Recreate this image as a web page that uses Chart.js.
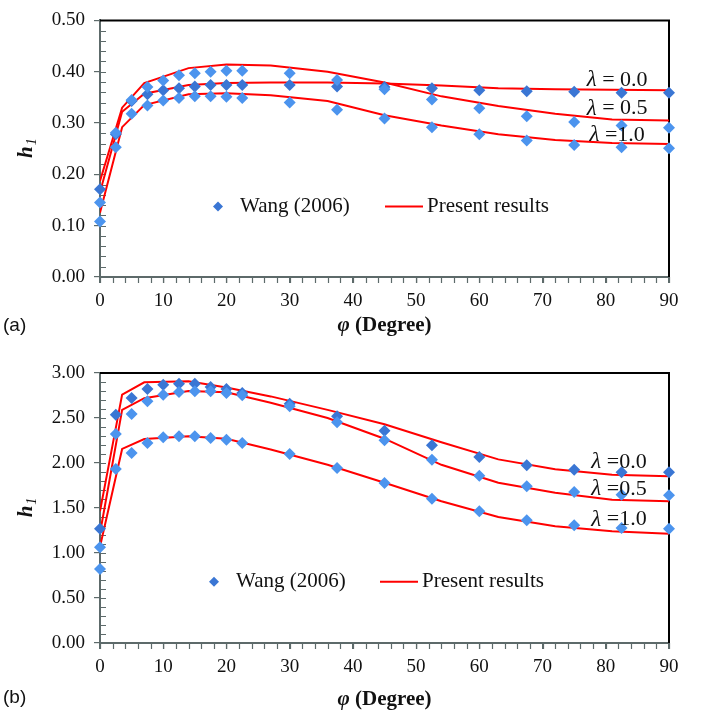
<!DOCTYPE html>
<html>
<head>
<meta charset="utf-8">
<script src="https://cdn.jsdelivr.net/npm/chart.js@4.4.0/dist/chart.umd.min.js"></script>
<style>
  html, body { margin: 0; padding: 0; background: #fff; }
  #wrap { position: relative; width: 706px; height: 719px; }
  .panel { position: absolute; left: 0; width: 706px; }
</style>
</head>
<body>
<div id="wrap">
  <div class="panel" style="top:0;height:345px"><canvas id="chartA" width="706" height="345"></canvas></div>
  <div class="panel" style="top:345px;height:374px"><canvas id="chartB" width="706" height="374"></canvas></div>
</div>
<script>
// angles of the Wang (2006) data points
const wangPhi = [0, 2.5, 5, 7.5, 10, 12.5, 15, 17.5, 20, 22.5, 30, 37.5, 45, 52.5, 60, 67.5, 75, 82.5, 90];
// angles where the present solution was evaluated
const presentPhi = [0, 3.5, 7, 14, 20, 27, 36, 45, 54, 63, 72, 81, 90];

// panel (a)
const wangA0  = [0.171, 0.278, 0.343, 0.356, 0.364, 0.368, 0.371, 0.374, 0.374, 0.374, 0.374, 0.371, 0.370, 0.368, 0.364, 0.362, 0.361, 0.359, 0.359];
const wangA05 = [0.145, 0.281, 0.345, 0.370, 0.383, 0.393, 0.397, 0.400, 0.402, 0.402, 0.397, 0.384, 0.366, 0.346, 0.329, 0.313, 0.302, 0.295, 0.291];
const wangA1  = [0.108, 0.253, 0.318, 0.334, 0.344, 0.349, 0.352, 0.352, 0.351, 0.349, 0.340, 0.326, 0.309, 0.292, 0.278, 0.266, 0.257, 0.253, 0.251];
const presA0  = [0.165, 0.322, 0.357, 0.374, 0.378, 0.379, 0.379, 0.377, 0.373, 0.368, 0.366, 0.365, 0.364];
const presA05 = [0.187, 0.330, 0.378, 0.407, 0.414, 0.412, 0.400, 0.379, 0.352, 0.333, 0.318, 0.307, 0.305];
const presA1  = [0.125, 0.292, 0.335, 0.356, 0.358, 0.354, 0.343, 0.315, 0.295, 0.278, 0.267, 0.261, 0.259];

// panel (b)
const wangB0  = [1.270, 2.537, 2.722, 2.822, 2.870, 2.881, 2.881, 2.844, 2.822, 2.778, 2.659, 2.519, 2.359, 2.196, 2.067, 1.974, 1.926, 1.896, 1.896];
const wangB05 = [1.063, 2.322, 2.544, 2.685, 2.759, 2.789, 2.796, 2.796, 2.778, 2.752, 2.630, 2.452, 2.252, 2.037, 1.859, 1.741, 1.678, 1.648, 1.641];
const wangB1  = [0.822, 1.933, 2.111, 2.222, 2.285, 2.296, 2.296, 2.278, 2.259, 2.222, 2.100, 1.944, 1.778, 1.604, 1.463, 1.363, 1.307, 1.278, 1.270];
const presB0  = [1.463, 2.760, 2.896, 2.907, 2.840, 2.740, 2.590, 2.430, 2.230, 2.040, 1.930, 1.870, 1.852];
const presB05 = [1.220, 2.590, 2.720, 2.800, 2.785, 2.670, 2.500, 2.270, 1.980, 1.780, 1.670, 1.593, 1.574];
const presB1  = [1.070, 2.156, 2.267, 2.296, 2.270, 2.150, 1.980, 1.780, 1.575, 1.400, 1.296, 1.241, 1.215];

// curve labels: text after the lambda symbol
const lambdaLabelsA = [' = 0.0', ' = 0.5', ' =1.0'];
const lambdaLabelsB = [' =0.0', ' =0.5', ' =1.0'];

const SERIF = '"Liberation Serif", "Times New Roman", serif';
const AXIS_GRAY = '#5d6a6a';
const DARK_BLUE = '#3a76d4';
const LIGHT_BLUE = '#4c94ee';
const RED = '#ff0000';

const pts = (xs, ys) => xs.map((x, i) => ({ x, y: ys[i] }));

function wangSet(ys, color) {
  return {
    data: pts(wangPhi, ys), showLine: false, clip: false,
    pointStyle: 'rectRot', pointRadius: 6, pointHoverRadius: 6,
    backgroundColor: color, borderWidth: 0
  };
}
function presentSet(ys) {
  return {
    data: pts(presentPhi, ys), showLine: true, pointRadius: 0,
    borderColor: RED, borderWidth: 2, tension: 0, fill: false
  };
}

// minor ticks, frame, legend, lambda labels and axis titles
const decor = {
  id: 'decor',
  beforeDatasetsDraw(chart, args, o) {
    const { ctx, chartArea: a } = chart;
    const xs = chart.scales.x, ys = chart.scales.y;
    ctx.save();
    ctx.strokeStyle = AXIS_GRAY;
    ctx.lineWidth = 1.2;
    ctx.beginPath();
    for (let v = 0; v <= o.yMax + 1e-9; v += o.yMinor) {
      const py = Math.round(ys.getPixelForValue(v)) + 0.5;
      ctx.moveTo(a.left, py); ctx.lineTo(a.left + 6, py);
    }
    for (let v = 0; v <= 90; v += 2) {
      const px = Math.round(xs.getPixelForValue(v)) + 0.5;
      ctx.moveTo(px, a.bottom); ctx.lineTo(px, a.bottom + 6);
    }
    ctx.stroke();
    // black frame on top and right
    ctx.strokeStyle = '#000';
    ctx.lineWidth = 2;
    ctx.beginPath();
    ctx.moveTo(a.left, a.top); ctx.lineTo(a.right, a.top); ctx.lineTo(a.right, a.bottom);
    ctx.stroke();
    ctx.restore();
  },
  afterDraw(chart, args, o) {
    const { ctx, chartArea: a } = chart;
    const xs = chart.scales.x, ys = chart.scales.y;
    ctx.save();
    ctx.fillStyle = '#111';
    ctx.textBaseline = 'middle';

    // legend
    const ly = a.top + o.legendY * (a.bottom - a.top);
    const dx = o.legendX;
    ctx.fillStyle = DARK_BLUE;
    ctx.beginPath();
    ctx.moveTo(dx - 5, ly); ctx.lineTo(dx, ly - 5); ctx.lineTo(dx + 5, ly); ctx.lineTo(dx, ly + 5);
    ctx.closePath(); ctx.fill();
    ctx.fillStyle = '#111';
    ctx.font = '21px ' + SERIF;
    ctx.textAlign = 'left';
    ctx.fillText('Wang (2006)', dx + 22, ly);
    ctx.strokeStyle = RED; ctx.lineWidth = 2;
    ctx.beginPath(); ctx.moveTo(o.lineX, ly); ctx.lineTo(o.lineX + 38, ly); ctx.stroke();
    ctx.fillText('Present results', o.lineX + 42, ly);

    // lambda labels, italic symbol then upright value
    o.lambdaLabels.forEach((t, i) => {
      const cx = xs.getPixelForValue(o.lambdaX), cy = ys.getPixelForValue(o.lambdaY[i]);
      ctx.font = 'italic 23px ' + SERIF;
      const wl = ctx.measureText('\u03bb').width;
      ctx.font = '22px ' + SERIF;
      const wt = ctx.measureText(t).width;
      const x0 = cx - (wl + wt) / 2;
      ctx.font = 'italic 23px ' + SERIF;
      ctx.fillText('\u03bb', x0, cy);
      ctx.font = '22px ' + SERIF;
      ctx.fillText(t, x0 + wl, cy);
    });

    // y title: h with subscript 1
    const cy = (a.top + a.bottom) / 2;
    ctx.save();
    ctx.translate(25, cy);
    ctx.rotate(-Math.PI / 2);
    ctx.font = 'bold italic 21px ' + SERIF;
    const wh = ctx.measureText('h').width;
    ctx.font = 'italic 14px ' + SERIF;
    const w1 = ctx.measureText('1').width;
    const x0 = -(wh + w1) / 2;
    ctx.textAlign = 'left';
    ctx.textBaseline = 'alphabetic';
    ctx.font = 'bold italic 21px ' + SERIF;
    ctx.fillText('h', x0, 7);
    ctx.font = 'italic 14px ' + SERIF;
    ctx.fillText('1', x0 + wh + 1, 11);
    ctx.restore();

    // x title
    const tx = (a.left + a.right) / 2;
    ctx.font = 'bold italic 21px ' + SERIF;
    const wPhi = ctx.measureText('\u03c6 ').width;
    ctx.font = 'bold 21px ' + SERIF;
    const wDeg = ctx.measureText('(Degree)').width;
    const sx = tx - (wPhi + wDeg) / 2;
    ctx.textAlign = 'left';
    ctx.font = 'bold italic 21px ' + SERIF;
    ctx.fillText('\u03c6 ', sx, o.titleY);
    ctx.font = 'bold 21px ' + SERIF;
    ctx.fillText('(Degree)', sx + wPhi, o.titleY);

    // panel tag
    ctx.font = '19px "Liberation Sans", Arial, sans-serif';
    ctx.fillText(o.tag, 3, o.tagY);
    ctx.restore();
  }
};

function makePanel(id, cfg) {
  return new Chart(document.getElementById(id), {
    type: 'scatter',
    data: { datasets: cfg.datasets },
    options: {
      responsive: false,
      animation: false,
      events: [],
      layout: { padding: { left: 0, right: 37, top: cfg.padTop, bottom: 0 } },
      plugins: {
        legend: { display: false },
        tooltip: { enabled: false },
        decor: cfg.decor
      },
      scales: {
        x: {
          type: 'linear', min: 0, max: 90,
          afterFit: s => { s.height = cfg.xHeight; },
          ticks: { stepSize: 10, color: '#111', padding: 7, font: { family: SERIF, size: 19 } },
          grid: { drawOnChartArea: false, tickLength: 6, color: AXIS_GRAY, lineWidth: 1.2 },
          border: { color: AXIS_GRAY, width: 2 }
        },
        y: {
          type: 'linear', min: 0, max: cfg.yMax,
          afterFit: s => { s.width = 100; },
          ticks: {
            stepSize: cfg.yStep, color: '#111', padding: 9,
            font: { family: SERIF, size: 19 },
            callback: v => v.toFixed(2)
          },
          grid: { drawOnChartArea: false, tickLength: 6, color: AXIS_GRAY, lineWidth: 1.2 },
          border: { color: AXIS_GRAY, width: 2 }
        }
      }
    },
    plugins: [decor]
  });
}

makePanel('chartA', {
  padTop: 12, xHeight: 68, yMax: 0.5, yStep: 0.1,
  datasets: [
    wangSet(wangA05, LIGHT_BLUE), wangSet(wangA1, LIGHT_BLUE), wangSet(wangA0, DARK_BLUE),
    presentSet(presA0), presentSet(presA05), presentSet(presA1)
  ],
  decor: {
    yMax: 0.5, yMinor: 0.02,
    legendX: 218, legendY: 0.725, lineX: 385,
    lambdaLabels: lambdaLabelsA, lambdaX: 81.8, lambdaY: [0.383, 0.328, 0.276],
    titleY: 326, tag: '(a)', tagY: 326
  }
});

makePanel('chartB', {
  padTop: 28, xHeight: 76, yMax: 3, yStep: 0.5,
  datasets: [
    wangSet(wangB05, LIGHT_BLUE), wangSet(wangB1, LIGHT_BLUE), wangSet(wangB0, DARK_BLUE),
    presentSet(presB0), presentSet(presB05), presentSet(presB1)
  ],
  decor: {
    yMax: 3, yMinor: 0.1,
    legendX: 214, legendY: 0.773, lineX: 380,
    lambdaLabels: lambdaLabelsB, lambdaX: 82.1, lambdaY: [2.014, 1.714, 1.37],
    titleY: 355, tag: '(b)', tagY: 353
  }
});
</script>
</body>
</html>
